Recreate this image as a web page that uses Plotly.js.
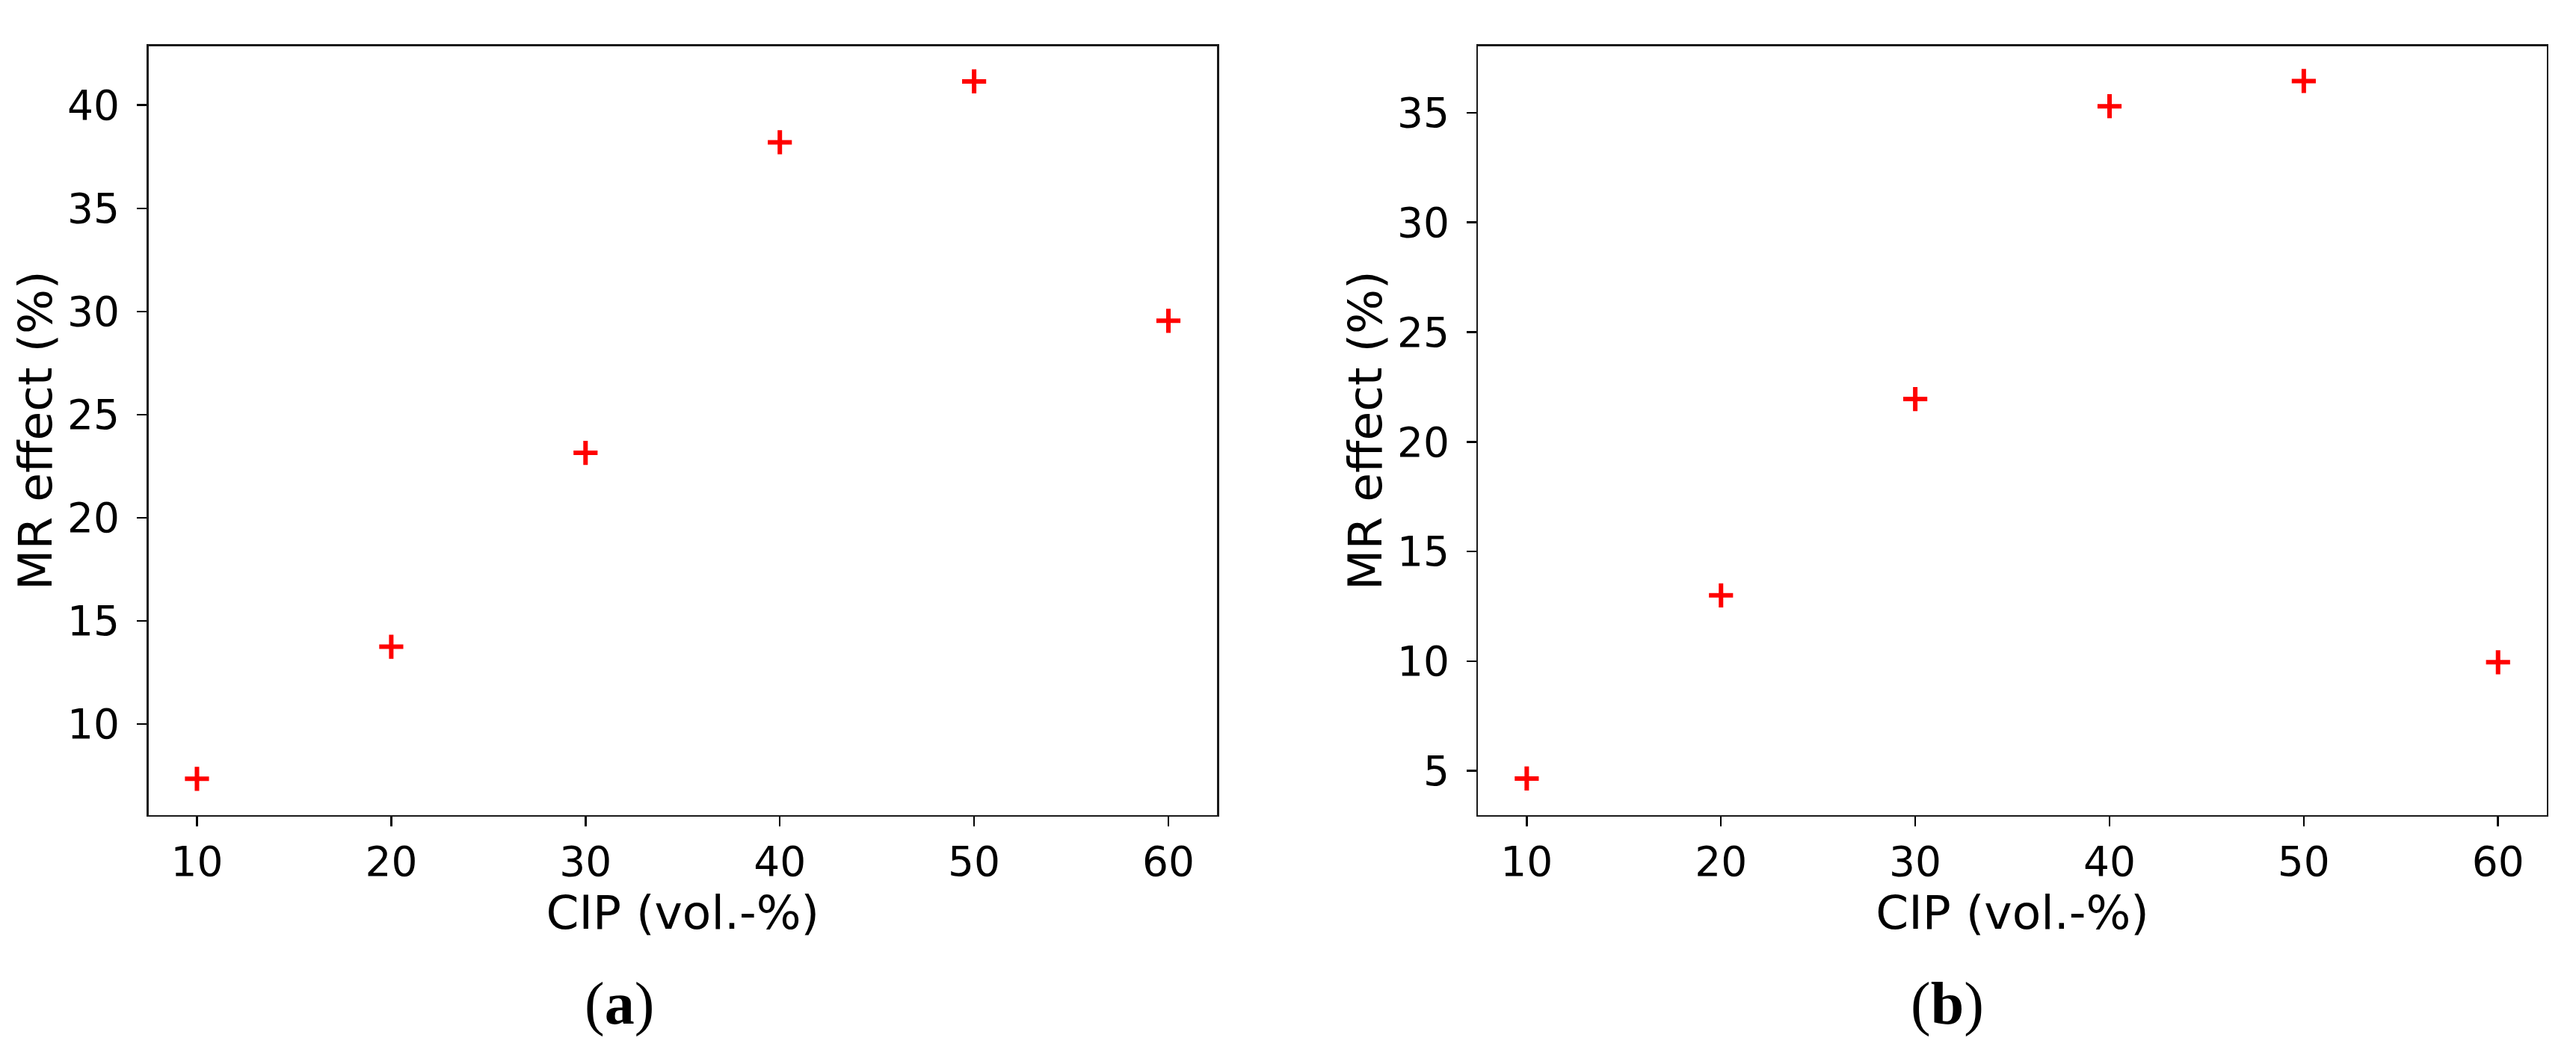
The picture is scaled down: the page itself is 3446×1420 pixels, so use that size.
<!DOCTYPE html>
<html>
<head>
<meta charset="utf-8">
<script src="https://cdn.plot.ly/plotly-3.0.1.min.js"></script>
<style>
  html, body { margin: 0; padding: 0; background: #ffffff; }
  #chart { width: 3446px; height: 1420px; }
</style>
</head>
<body>
<div id="chart"></div>
<script>
// ---- data ----
var cipContent = [10, 20, 30, 40, 50, 60];          // CIP (vol.-%)
var mrEffectA = [7.35, 13.75, 23.15, 38.2, 41.15, 29.55]; // panel (a), MR effect (%)
var mrEffectB = [4.65, 13.0, 21.95, 35.3, 36.45, 9.95];   // panel (b), MR effect (%)
var xTickVals = [10, 20, 30, 40, 50, 60];
var yTickValsA = [10, 15, 20, 25, 30, 35, 40];
var yTickValsB = [5, 10, 15, 20, 25, 30, 35];
var xTitle = 'CIP (vol.-%)';
var yTitle = 'MR effect (%)';
var panelLabels = ['(<b>a</b>)', '(<b>b</b>)'];

var W = 3446, H = 1420;
var tickFont = { family: 'DejaVu Sans', size: 55, color: '#000000' };
var titleFont = { family: 'DejaVu Sans', size: 63, color: '#000000' };

function marker() {
  return {
    symbol: 'cross-thin',
    size: 23,
    color: '#ff0000',
    line: { color: '#ff0000', width: 6 }
  };
}

var traces = [
  { x: cipContent, y: mrEffectA, type: 'scatter', mode: 'markers', marker: marker(), xaxis: 'x', yaxis: 'y', hoverinfo: 'x+y' },
  { x: cipContent, y: mrEffectB, type: 'scatter', mode: 'markers', marker: marker(), xaxis: 'x2', yaxis: 'y2', hoverinfo: 'x+y' }
];

function xAxis(domain, anchor) {
  return {
    domain: domain, anchor: anchor,
    range: [7.5, 62.5],
    tickmode: 'array', tickvals: xTickVals,
    ticks: 'outside', ticklen: 13, tickwidth: 2.5, tickcolor: '#000000',
    ticklabelstandoff: 0,
    showline: true, mirror: true, linecolor: '#1a1a1a', linewidth: 2.5,
    showgrid: false, zeroline: false,
    tickfont: tickFont,
    title: { text: xTitle, font: titleFont, standoff: 6 }
  };
}
function yAxis(domain, anchor, range, tickvals) {
  return {
    domain: domain, anchor: anchor,
    range: range,
    tickmode: 'array', tickvals: tickvals,
    ticks: 'outside', ticklen: 13, tickwidth: 2.5, tickcolor: '#000000',
    ticklabelstandoff: 12,
    showline: true, mirror: true, linecolor: '#1a1a1a', linewidth: 2.5,
    showgrid: false, zeroline: false,
    tickfont: tickFont,
    title: { text: yTitle, font: titleFont, standoff: 0 }
  };
}

var yDom = [1 - 1090.7 / H, 1 - 61.7 / H];
var layout = {
  width: W, height: H,
  margin: { l: 0, r: 0, t: 0, b: 0, pad: 0 },
  paper_bgcolor: '#ffffff', plot_bgcolor: '#ffffff',
  showlegend: false,
  xaxis: xAxis([198.5 / W, 1628 / W], 'y'),
  yaxis: yAxis(yDom, 'x', [5.6, 42.86], yTickValsA),
  xaxis2: xAxis([1977.4 / W, 3406.7 / W], 'y2'),
  yaxis2: yAxis(yDom, 'x2', [2.99, 38.04], yTickValsB),
  annotations: [
    { text: panelLabels[0], xref: 'paper', yref: 'paper', x: 828 / W, y: 1 - 1343 / H,
      xanchor: 'center', yanchor: 'middle', showarrow: false,
      font: { family: 'Liberation Serif', size: 80, color: '#000000' } },
    { text: panelLabels[1], xref: 'paper', yref: 'paper', x: 2605 / W, y: 1 - 1343 / H,
      xanchor: 'center', yanchor: 'middle', showarrow: false,
      font: { family: 'Liberation Serif', size: 80, color: '#000000' } }
  ]
};

Plotly.newPlot('chart', traces, layout, { staticPlot: true, displayModeBar: false });
</script>
</body>
</html>
